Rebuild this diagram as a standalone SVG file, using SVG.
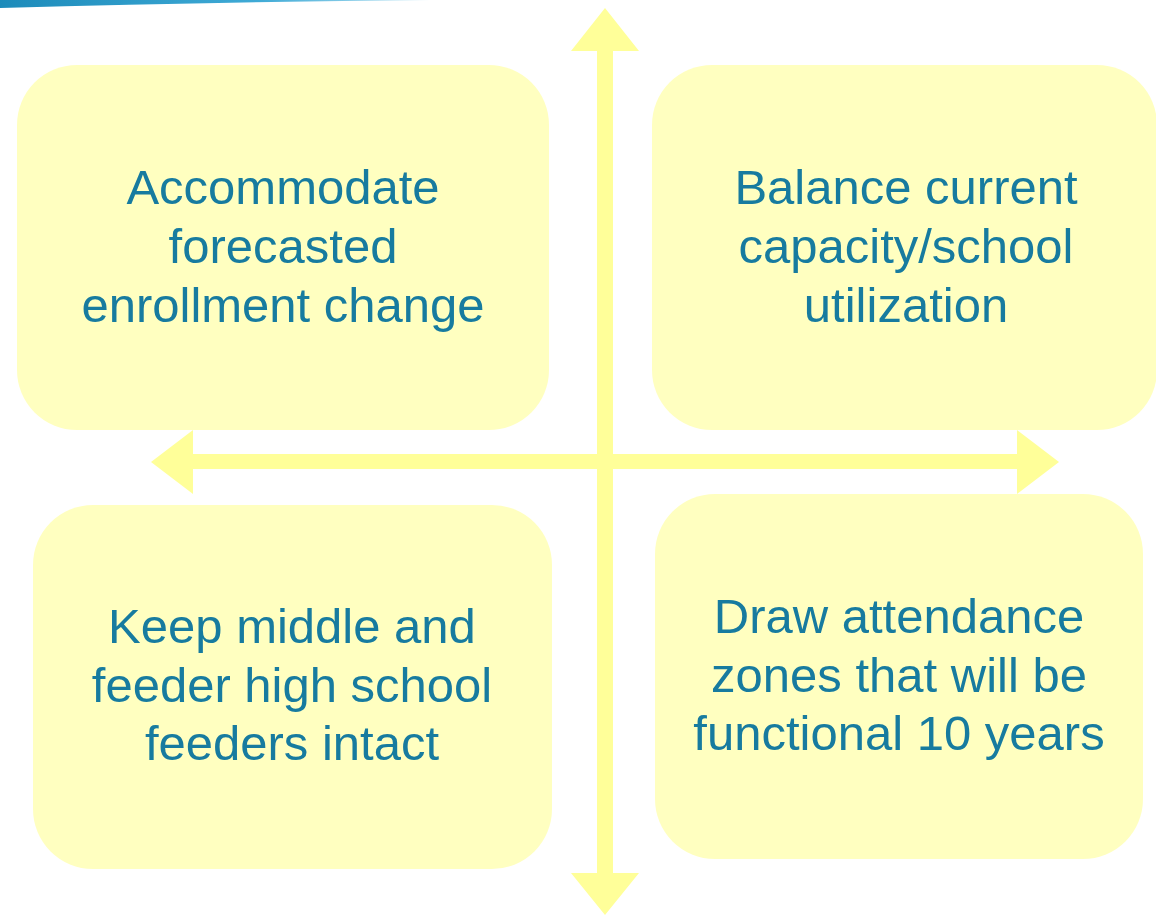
<svg xmlns="http://www.w3.org/2000/svg" width="1156" height="915" viewBox="0 0 1156 915">
  <style>
    .box { fill: #FFFFC0; }
    .axis { fill: #FFFF99; }
    .lbl { font-family: "Liberation Sans", Arial, sans-serif; font-size: 49px; fill: #177B9F; text-anchor: middle; }
  </style>
  <defs>
    <linearGradient id="swoosh" x1="0" y1="0" x2="1" y2="0">
      <stop offset="0" stop-color="#1C8BBA"/>
      <stop offset="0.6" stop-color="#3FAAD6"/>
      <stop offset="1" stop-color="#BFE6F5"/>
    </linearGradient>
  </defs>
  <rect width="1156" height="915" fill="#FFFFFF"/>
  <path d="M0,0 L430,0 Q220,2 0,8 Z" fill="url(#swoosh)"/>

  <g id="connectors">
    <polygon class="axis" points="605,8 639,51 613,51 613,873 639,873 605,915 571,873 597,873 597,51 571,51"/>
    <polygon class="axis" points="151,462 193,430 193,454 1017,454 1017,430 1059,462 1017,494 1017,469 193,469 193,494"/>
  </g>

  <g id="node-accommodate">
    <rect class="box" x="17" y="65" width="532" height="365" rx="60" ry="60"/>
    <text class="lbl" x="283" y="204">Accommodate</text>
    <text class="lbl" x="283" y="263">forecasted</text>
    <text class="lbl" x="283" y="322">enrollment change</text>
  </g>

  <g id="node-balance">
    <rect class="box" x="652" y="65" width="505" height="365" rx="60" ry="60"/>
    <text class="lbl" x="906" y="204">Balance current</text>
    <text class="lbl" x="906" y="263">capacity/school</text>
    <text class="lbl" x="906" y="322">utilization</text>
  </g>

  <g id="node-feeders">
    <rect class="box" x="33" y="505" width="519" height="364" rx="60" ry="60"/>
    <text class="lbl" x="292" y="643">Keep middle and</text>
    <text class="lbl" x="292" y="702">feeder high school</text>
    <text class="lbl" x="292" y="760">feeders intact</text>
  </g>

  <g id="node-zones">
    <rect class="box" x="655" y="494" width="488" height="365" rx="60" ry="60"/>
    <text class="lbl" x="899" y="633">Draw attendance</text>
    <text class="lbl" x="899" y="692">zones that will be</text>
    <text class="lbl" x="899" y="750">functional 10 years</text>
  </g>
</svg>
